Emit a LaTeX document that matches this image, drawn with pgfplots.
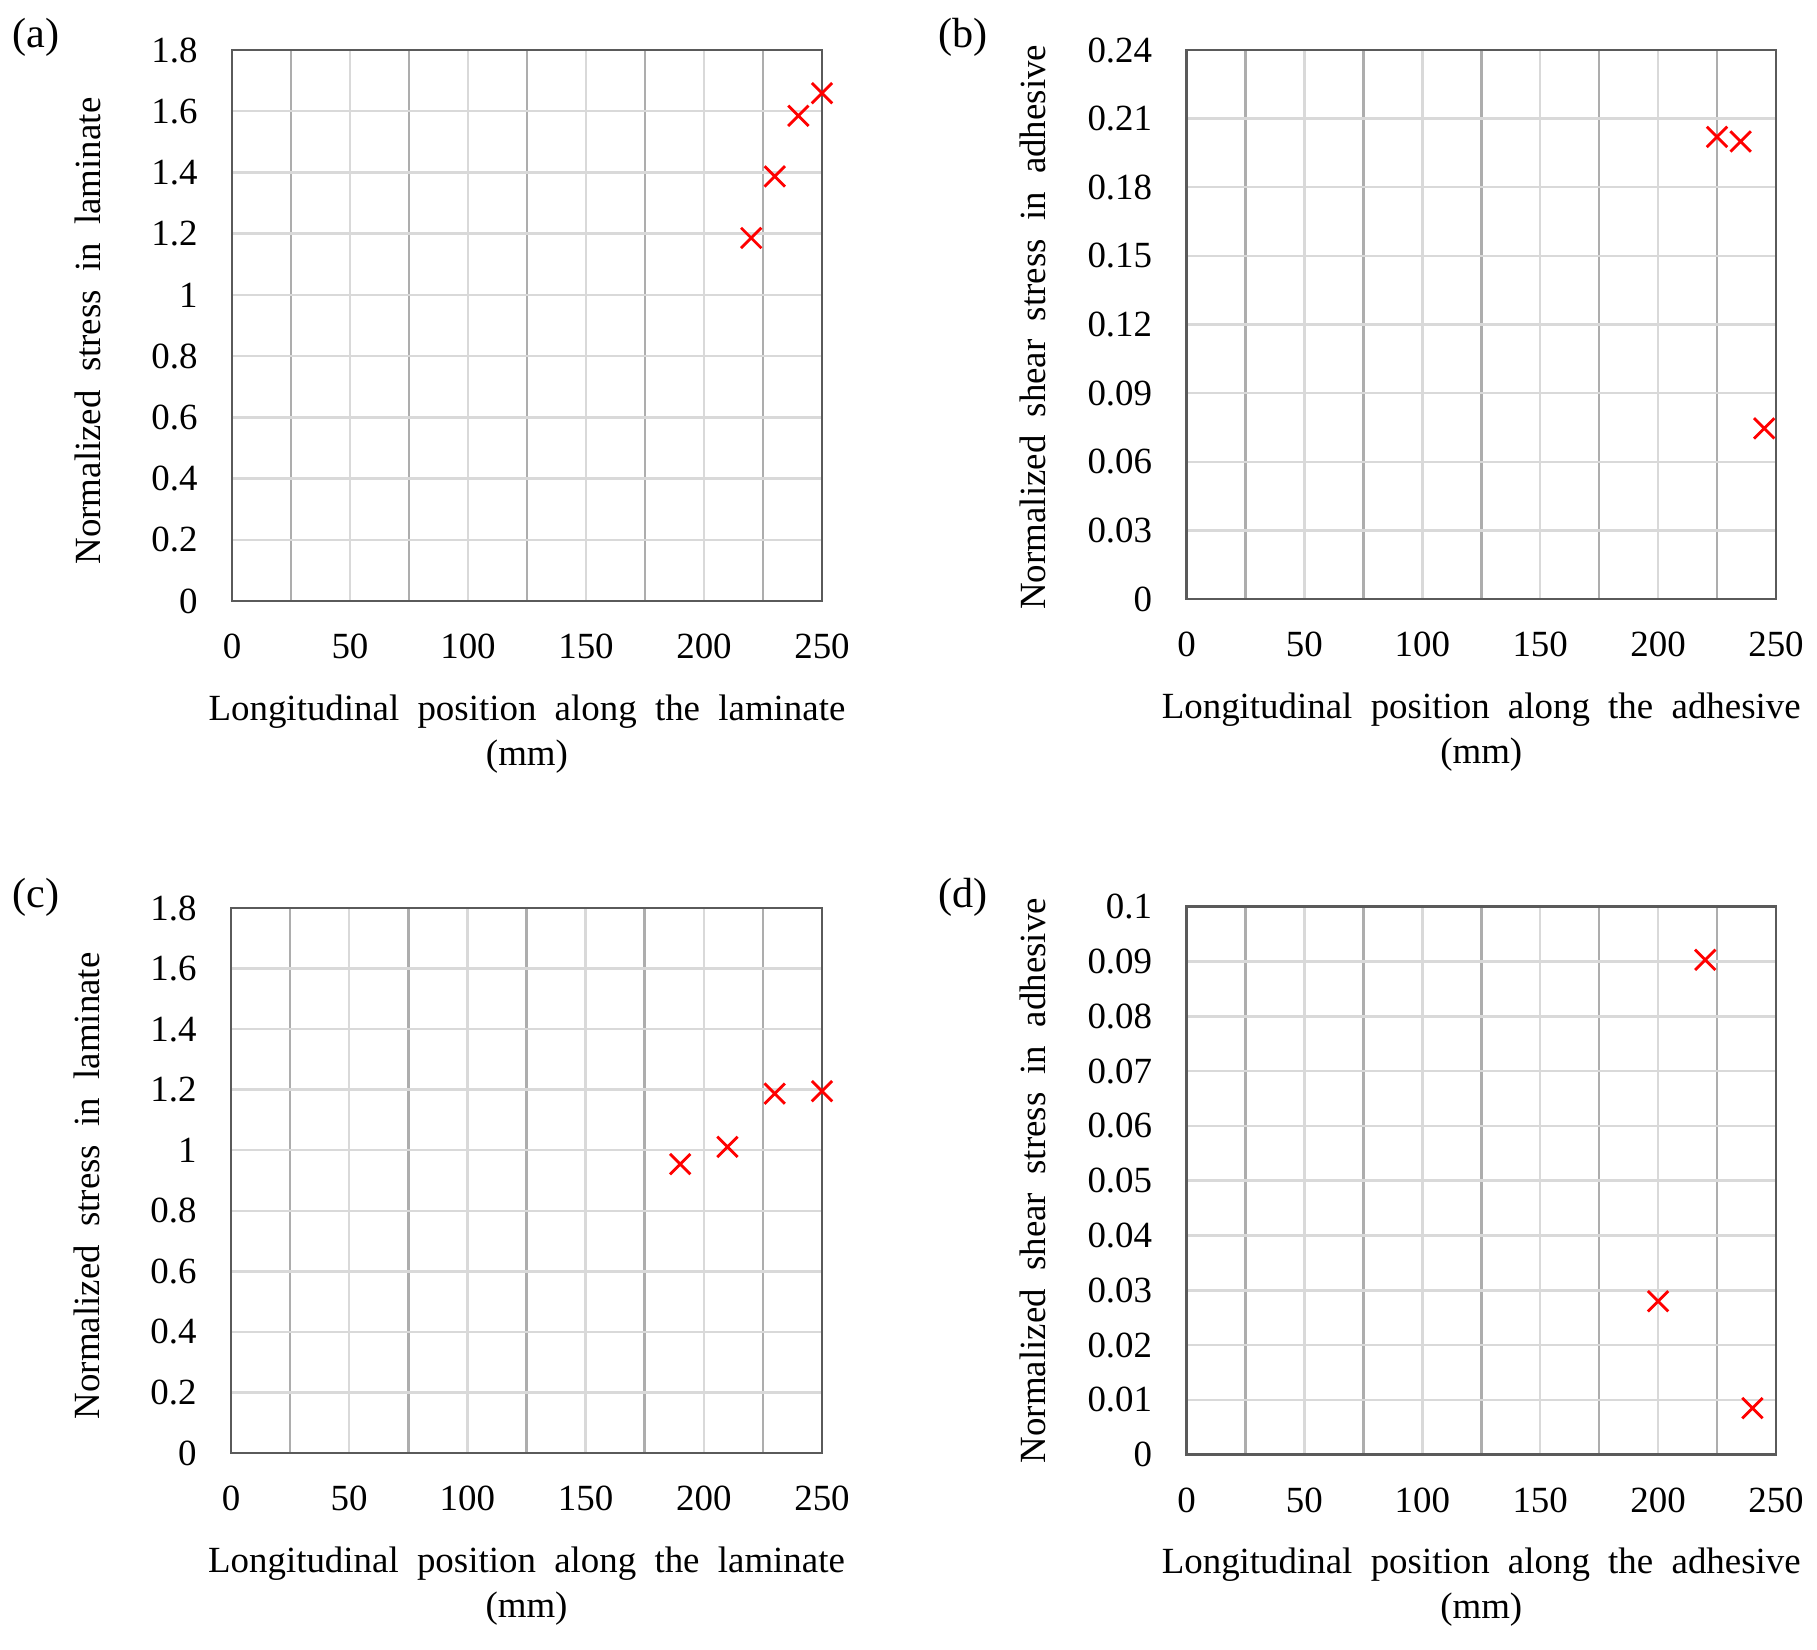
\documentclass[border=0pt]{standalone}
\usepackage{fontspec}
\setmainfont{Liberation Serif}
\usepackage{pgfplots}
\pgfplotsset{compat=1.18}
\definecolor{boxgray}{HTML}{5A5A5A}
\definecolor{lightgrid}{HTML}{D9D9D9}
\definecolor{midgrid}{HTML}{ADADAD}
\newcommand{\tickfont}{\fontsize{10.5}{12}\selectfont}
\newcommand{\labfont}{\fontsize{10.5}{12.8}\selectfont\spaceskip=5.2pt plus 1pt minus 1pt\relax}
\pgfplotsset{
  panel/.style={
    scale only axis,
    xmin=0, xmax=250,
    xtick={0,50,100,150,200,250},
    minor xtick={25,75,125,175,225},
    grid=both,
    major grid style={color=lightgrid, line width=0.7pt},
    minor grid style={color=midgrid, line width=0.75pt},
    axis line style={color=boxgray, line width=0.7pt},
    major tick length=0pt, minor tick length=0pt,
    tick style={draw=none},
    clip=false,
    /pgf/number format/assume math mode=true,
    ticklabel style={font=\tickfont},
    xticklabel style={yshift=-0.21cm},
    yticklabel style={xshift=-0.22cm},
    xlabel style={at={(axis description cs:0.5,0)}, anchor=north, yshift=-0.81cm, align=center, font=\labfont},
    ylabel style={anchor=center, font=\labfont},
  },
  pts/.style={only marks, mark=x, mark size=4.1pt, red, mark options={line width=0.8pt, solid}},
}
\begin{document}
\begin{tikzpicture}
\useasboundingbox (0,0) rectangle (18.17cm,16.50cm);

% (a)
\begin{axis}[panel, at={(2.32cm,10.49cm)}, anchor=south west, width=5.90cm, height=5.51cm,
  ymin=0, ymax=1.8, ytick={0,0.2,0.4,0.6,0.8,1,1.2,1.4,1.6,1.8},
  ylabel style={at={(axis description cs:-0.244,0.49)}},
  xlabel={Longitudinal position along the laminate\\(mm)},
  ylabel={Normalized stress in laminate}]
\addplot[pts] coordinates {(220,1.186) (230,1.387) (240,1.585) (250,1.659)};
\end{axis}

% (b)
\begin{axis}[panel, at={(11.865cm,10.51cm)}, anchor=south west, width=5.895cm, height=5.49cm,
  ymin=0, ymax=0.24, ytick={0,0.03,0.06,0.09,0.12,0.15,0.18,0.21,0.24},
  yticklabel style={/pgf/number format/fixed, /pgf/number format/precision=2},
  ylabel style={at={(axis description cs:-0.261,0.495)}},
  xlabel={Longitudinal position along the adhesive\\(mm)},
  ylabel={Normalized shear stress in adhesive}]
\addplot[pts] coordinates {(225,0.202) (235,0.200) (245,0.0746)};
\end{axis}

% (c)
\begin{axis}[panel, at={(2.31cm,1.97cm)}, anchor=south west, width=5.91cm, height=5.45cm,
  ymin=0, ymax=1.8, ytick={0,0.2,0.4,0.6,0.8,1,1.2,1.4,1.6,1.8},
  ylabel style={at={(axis description cs:-0.244,0.49)}},
  xlabel={Longitudinal position along the laminate\\(mm)},
  ylabel={Normalized stress in laminate}]
\addplot[pts] coordinates {(190,0.954) (210,1.011) (230,1.187) (250,1.195)};
\end{axis}

% (d)
\begin{axis}[panel, at={(11.865cm,1.953cm)}, anchor=south west, width=5.895cm, height=5.48cm,
  ymin=0, ymax=0.1, ytick={0,0.01,0.02,0.03,0.04,0.05,0.06,0.07,0.08,0.09,0.1},
  yticklabel style={/pgf/number format/fixed, /pgf/number format/precision=2},
  ylabel style={at={(axis description cs:-0.261,0.5)}},
  xlabel={Longitudinal position along the adhesive\\(mm)},
  ylabel={Normalized shear stress in adhesive}]
\addplot[pts] coordinates {(200,0.028) (220,0.0903) (240,0.0085)};
\end{axis}

\node[anchor=west, inner sep=0pt, font=\fontsize{12}{14}\selectfont] at (0.12cm,16.13cm) {(a)};
\node[anchor=west, inner sep=0pt, font=\fontsize{12}{14}\selectfont] at (9.38cm,16.13cm) {(b)};
\node[anchor=west, inner sep=0pt, font=\fontsize{12}{14}\selectfont] at (0.12cm,7.525cm) {(c)};
\node[anchor=west, inner sep=0pt, font=\fontsize{12}{14}\selectfont] at (9.38cm,7.525cm) {(d)};
\end{tikzpicture}
\end{document}
